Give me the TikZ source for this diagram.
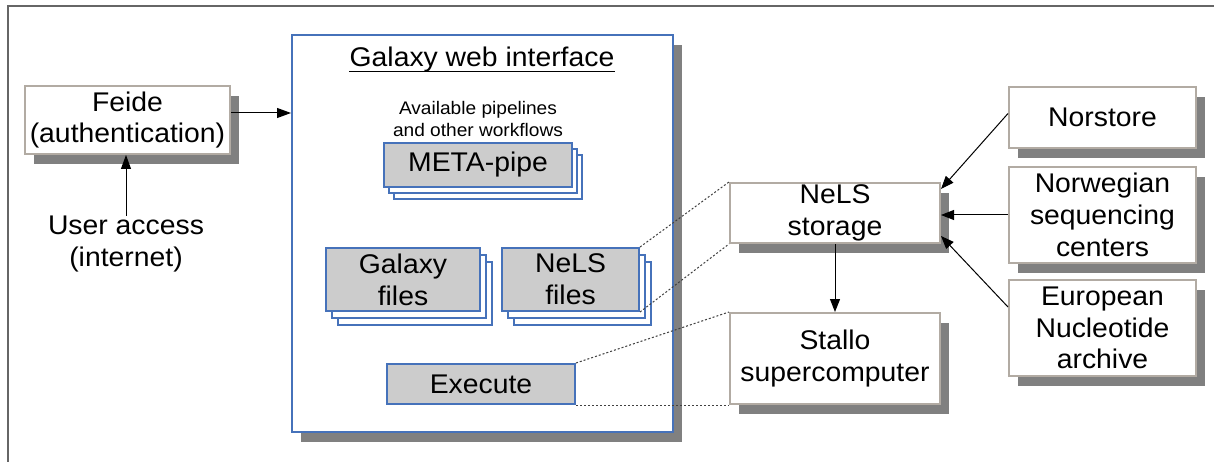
\documentclass[tikz,border=0pt]{standalone}
\usepackage{fontspec}
\setmainfont{Liberation Sans}[FakeStretch=1.05]
\usetikzlibrary{arrows.meta,shadows}
\definecolor{framegray}{HTML}{666666}
\definecolor{shadowgray}{HTML}{808080}
\definecolor{boxedge}{HTML}{B2ABA3}
\definecolor{galblue}{HTML}{4672BA}
\definecolor{fillgray}{HTML}{CCCCCC}
\tikzset{
  txt/.style={font=\fontsize{27}{31.8}\selectfont, align=center, inner sep=0pt},
  smalltxt/.style={font=\fontsize{18.2}{21.5}\selectfont, align=center, inner sep=0pt},
  shade/.style={drop shadow={shadow xshift=9pt, shadow yshift=-10pt, fill=shadowgray, opacity=1}},
  whitebox/.style={txt, draw=boxedge, line width=2pt, fill=white, shade},
  galbox/.style={draw=galblue, line width=2pt, fill=white, shade},
  graybox/.style={txt, draw=galblue, line width=2pt, fill=fillgray},
  copybox/.style={draw=galblue, line width=2pt, fill=white},
  arr/.style={line width=1pt, -{Triangle[length=14pt,width=10pt]}},
  arrs/.style={line width=1pt, -{Triangle[length=13pt,width=10pt]}},
  dots/.style={line width=1pt, draw=black!75, dash pattern=on 2pt off 2pt}
}
\begin{document}
\begin{tikzpicture}[x=1pt,y=-1pt]
\useasboundingbox (0,0) rectangle (1214,462);
% frame
\coordinate (ftl) at (8,6);
\coordinate (ftr) at (1214,6);
\coordinate (fbl) at (8,462);
\draw[framegray, line width=1.5pt] (fbl) -- (ftl) -- (ftr);

% Feide and user
\node[whitebox, minimum width=205pt, minimum height=68pt] (feide) at (127.5,120) {Feide\\(authentication)};
\node[txt] (user) at (126,244) {User access\\(internet)};

% Galaxy
\node[galbox, minimum width=381pt, minimum height=397pt] (galaxy) at (482.5,233.5) {};
\node[txt, anchor=base] (title) at (482,67) {Galaxy web interface};
\draw[line width=1.5pt] ([yshift=-4.5pt]title.base west) -- ([yshift=-4.5pt]title.base east);
\node[smalltxt] (avail) at (478,119) {Available pipelines\\and other workflows};

% META-pipe stack
\node[copybox, minimum width=188pt, minimum height=44pt] (meta2) at (488,177) {};
\node[copybox, minimum width=188pt, minimum height=44pt] (meta1) at (483,171) {};
\node[graybox, minimum width=188pt, minimum height=44pt] (meta) at (478,165) {META-pipe};

% Galaxy files stack
\node[copybox, minimum width=154pt, minimum height=63pt] (gf2) at (415,293.5) {};
\node[copybox, minimum width=154pt, minimum height=63pt] (gf1) at (409,286.5) {};
\node[graybox, minimum width=154pt, minimum height=63pt] (gfiles) at (403,279.5) {Galaxy\\files};

% NeLS files stack
\node[copybox, minimum width=137pt, minimum height=63pt] (nf2) at (582.5,293.5) {};
\node[copybox, minimum width=137pt, minimum height=63pt] (nf1) at (576.5,286.5) {};
\node[graybox, minimum width=137pt, minimum height=63pt] (nfiles) at (570.5,279.5) {NeLS\\files};

% Execute
\node[graybox, minimum width=188pt, minimum height=40pt] (exec) at (481,384) {Execute};

% NeLS storage and Stallo
\node[whitebox, minimum width=210pt, minimum height=60pt] (nels) at (835,213) {NeLS\\storage};
\node[whitebox, minimum width=210pt, minimum height=91pt] (stallo) at (835,358.5) {Stallo\\supercomputer};

% right sources
\node[whitebox, minimum width=187pt, minimum height=61pt] (nor) at (1102.5,117.5) {Norstore};
\node[whitebox, minimum width=187pt, minimum height=96pt] (nsc) at (1102.5,215) {Norwegian\\sequencing\\centers};
\node[whitebox, minimum width=187pt, minimum height=96pt] (ena) at (1102.5,328) {European\\Nucleotide\\archive};

% connector end points
\coordinate (fe) at ([yshift=7pt]feide.east);
\coordinate (ge) at (galaxy.west |- fe);
\coordinate (norw) at ([yshift=4pt]nor.west);
\coordinate (nelsa) at ([yshift=-7pt]nels.north east);
\coordinate (nelsb) at (nels.east |- nsc.west);
\coordinate (enaw) at ([yshift=21pt]ena.west);
\coordinate (nelsc) at ([yshift=8pt]nels.south east);
\coordinate (feb) at (feide.south -| user.north);

% connectors
\draw[arr] (fe) -- (ge);
\draw[arr] (user.north) -- (feb);
\draw[arrs] (nels.south) -- (stallo.north);
\draw[arrs] (norw) -- (nelsa);
\draw[arrs] (nsc.west) -- (nelsb);
\draw[arrs] (enaw) -- (nelsc);
\draw[dots] (nfiles.north east) -- (nels.north west);
\draw[dots] (nfiles.south east) -- (nels.south west);
\draw[dots] (exec.north east) -- (stallo.north west);
\draw[dots] (exec.south east) -- (stallo.south west);
\end{tikzpicture}
\end{document}
